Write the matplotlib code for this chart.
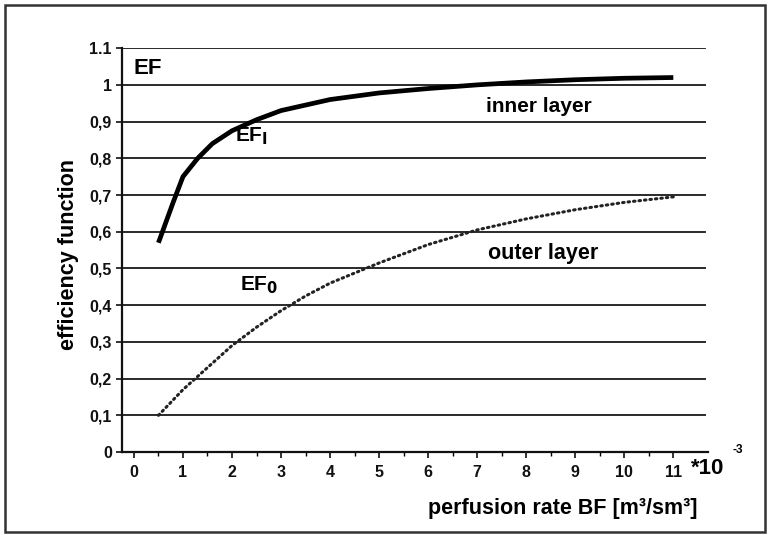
import numpy as np
import matplotlib
matplotlib.use("Agg")
import matplotlib.pyplot as plt
from matplotlib.patches import Rectangle

# perfusion rate BF (x 10^-3 m^3/sm^3) and efficiency function of both layers
bf_inner = [0.5, 0.8, 1.0, 1.3, 1.6, 2.0, 2.5, 3.0, 4.0, 5.0, 6.0, 7.0, 8.0, 9.0, 10.0, 11.0]
ef_inner = [0.57, 0.68, 0.75, 0.80, 0.84, 0.875, 0.905, 0.93, 0.96, 0.978, 0.99, 1.0, 1.008, 1.014, 1.018, 1.02]

bf_outer = [0.5, 1.0, 1.25, 2.0, 2.5, 3.0, 3.5, 4.0, 5.0, 6.0, 7.0, 8.0, 9.0, 10.0, 11.0]
ef_outer = [0.10, 0.17, 0.20, 0.29, 0.34, 0.385, 0.425, 0.46, 0.515, 0.565, 0.605, 0.635, 0.66, 0.68, 0.695]

x_ticks = list(range(0, 12))
y_ticks = [0, 0.1, 0.2, 0.3, 0.4, 0.5, 0.6, 0.7, 0.8, 0.9, 1.0, 1.1]
y_tick_labels = ["0", "0,1", "0,2", "0,3", "0,4", "0,5", "0,6", "0,7", "0,8", "0,9", "1", "1.1"]

plt.rcParams['font.family'] = ['Liberation Sans', 'DejaVu Sans']
plt.rcParams['font.weight'] = 'bold'

fig = plt.figure(figsize=(7.7, 5.35), dpi=100)
ax = fig.add_axes([0.158, 0.155, 0.761, 0.755])

# horizontal grid, drawn as plain lines (no frame on top/right)
for y in y_ticks[1:]:
    ax.axhline(y, xmax=0.995, color="#2a2a2a", lw=1.4, zorder=1)

ax.plot(bf_inner, ef_inner, color="black", lw=3.4, solid_capstyle="butt", zorder=3)
ax.plot(bf_outer, ef_outer, color="#222222", lw=2.2, linestyle=(0, (0.5, 1.3)),
        dash_capstyle="round", zorder=3)

ax.set_xlim(-0.25, 11.7)
ax.set_ylim(0, 1.1)
ax.set_xticks(x_ticks)
ax.set_xticks(np.arange(0.5, 11.5, 1.0), minor=True)
ax.set_yticks(y_ticks)
ax.set_yticklabels(y_tick_labels)
ax.tick_params(axis="both", labelsize=11.5, colors="#111111", width=1.2)
ax.tick_params(axis="x", direction="out", length=4, pad=5)
ax.tick_params(axis="x", which="minor", direction="out", length=3, width=1.0)
ax.tick_params(axis="y", direction="out", length=4, pad=3)
for lbl in ax.get_xticklabels() + ax.get_yticklabels():
    lbl.set_fontweight("bold")

for side in ("top", "right"):
    ax.spines[side].set_visible(False)
for side in ("left", "bottom"):
    ax.spines[side].set_linewidth(1.6)
    ax.spines[side].set_color("#111111")

# curve annotations
ax.text(0.0, 1.045, "EF", fontsize=16, fontweight="bold", va="center", ha="left")
ax.text(2.4, 0.86, r"EF$_{\mathbf{I}}$", fontsize=15, fontweight="bold", va="center", ha="center")
ax.text(2.55, 0.455, r"EF$_{\mathbf{0}}$", fontsize=15, fontweight="bold", va="center", ha="center")
ax.text(8.25, 0.94, "inner layer", fontsize=15, fontweight="bold", va="center", ha="center")
ax.text(8.35, 0.54, "outer layer", fontsize=15.5, fontweight="bold", va="center", ha="center")

ax.text(-0.09, 0.49, "efficiency function", transform=ax.transAxes, rotation=90,
        fontsize=15.5, fontweight="bold", ha="center", va="center")
ax.text(0.753, -0.14, "perfusion rate BF [m\u00b3/sm\u00b3]", transform=ax.transAxes,
        fontsize=15.5, fontweight="bold", ha="center", va="center")
ax.text(0.972, -0.04, "*10", transform=ax.transAxes, fontsize=16,
        fontweight="bold", ha="left", va="center")
ax.text(1.043, 0.004, "-3", transform=ax.transAxes, fontsize=8.5,
        fontweight="bold", ha="left", va="center")

# border around the whole figure
fig.patches.append(Rectangle((0.007, 0.006), 0.986, 0.984, transform=fig.transFigure,
                             fill=False, lw=1.8, edgecolor="#333333"))

fig.savefig("out.png", dpi=100)
